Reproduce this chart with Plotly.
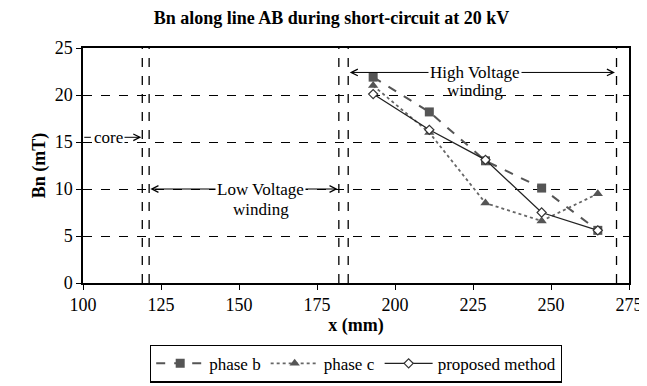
import plotly.graph_objects as go

x_pos = [193, 211, 229, 247, 265]
phase_b = [21.9, 18.2, 13.0, 10.1, 5.6]
phase_c = [21.0, 16.0, 8.5, 6.6, 9.5]
proposed = [20.1, 16.3, 13.1, 7.5, 5.6]
boundaries = [119, 121.2, 182, 185, 271]
y_ticks = [0, 5, 10, 15, 20, 25]
x_ticks = [100, 125, 150, 175, 200, 225, 250, 275]

FONT = "Liberation Serif"
fig = go.Figure()

fig.add_trace(go.Scatter(x=x_pos, y=phase_b, name="phase b", mode="lines+markers",
                         line=dict(color="#555555", width=2, dash="dash"),
                         marker=dict(symbol="square", size=9, color="#555555")))
fig.add_trace(go.Scatter(x=x_pos, y=phase_c, name="phase c", mode="lines+markers",
                         line=dict(color="#666666", width=1.8, dash="dot"),
                         marker=dict(symbol="triangle-up", size=9, color="#555555")))
fig.add_trace(go.Scatter(x=x_pos, y=proposed, name="proposed method", mode="lines+markers",
                         line=dict(color="#222222", width=1.3),
                         marker=dict(symbol="diamond", size=7, color="white",
                                     line=dict(color="#333333", width=1.2))))

for b in boundaries:
    fig.add_shape(type="line", x0=b, x1=b, y0=0, y1=25, xref="x", yref="y",
                  line=dict(color="black", width=1.3, dash="dash"), layer="above")

def arrow(xh, yh, xt, yt):
    fig.add_annotation(x=xh, y=yh, ax=xt, ay=yt, xref="x", yref="y", axref="x", ayref="y",
                       text="", showarrow=True, arrowhead=5, arrowsize=1.3, arrowwidth=1,
                       arrowcolor="black", standoff=0, startstandoff=0)

def label(xx, yy, t, bg="rgba(0,0,0,0)"):
    fig.add_annotation(x=xx, y=yy, xref="x", yref="y", text=t, showarrow=False,
                       bgcolor=bg, borderpad=1,
                       font=dict(family=FONT, size=17, color="black"))

# arrows first, labels on top
arrow(118.7, 15.5, 112, 15.5)
fig.add_annotation(x=100.4, y=15.5, ax=103, ay=15.5, xref="x", yref="y", axref="x", ayref="y",
                   text="", showarrow=True, arrowhead=0, arrowwidth=1, arrowcolor="black",
                   standoff=0, startstandoff=0)
arrow(121.6, 10, 145, 10)
arrow(181.6, 10, 168, 10)
arrow(185.5, 22.4, 215, 22.4)
arrow(270.5, 22.4, 236, 22.4)

label(108.3, 15.5, "core", bg="white")
label(157, 10, "Low Voltage", bg="white")
label(157, 7.8, "winding")
label(225.5, 22.4, "High Voltage", bg="white")
label(225.5, 20.5, "winding")

axis_common = dict(showline=True, linecolor="black", linewidth=1.5, mirror=True,
                   ticks="outside", ticklen=5, tickcolor="black", zeroline=False,
                   ticklabeloverflow="allow",
                   tickfont=dict(family=FONT, size=18, color="black"))

fig.update_layout(
    width=647, height=386,
    margin=dict(l=75, r=24, t=40, b=98),
    paper_bgcolor="white", plot_bgcolor="white",
    font=dict(family=FONT, size=17, color="black"),
    title=dict(text="<b>Bn along line AB during short-circuit at 20 kV</b>",
               x=0.5, xanchor="center", y=0.99, yanchor="top",
               font=dict(family=FONT, size=18)),
    xaxis=dict(range=[100, 275], tickvals=x_ticks, showgrid=False,
               title=dict(text="<b>x (mm)</b>", font=dict(family=FONT, size=18), standoff=2),
               **axis_common),
    yaxis=dict(range=[0, 25], tickvals=y_ticks, showgrid=True, gridcolor="black",
               griddash="dash", gridwidth=1.3,
               title=dict(text="<b>Bn (mT)</b>", font=dict(family=FONT, size=18), standoff=4),
               **axis_common),
    legend=dict(orientation="h", x=0.5, xanchor="center", y=-0.262, yanchor="top",
                bordercolor="black", borderwidth=1.2, font=dict(family=FONT, size=17),
                itemwidth=48, tracegroupgap=0),
    showlegend=True,
)

fig.write_html("out.html")
